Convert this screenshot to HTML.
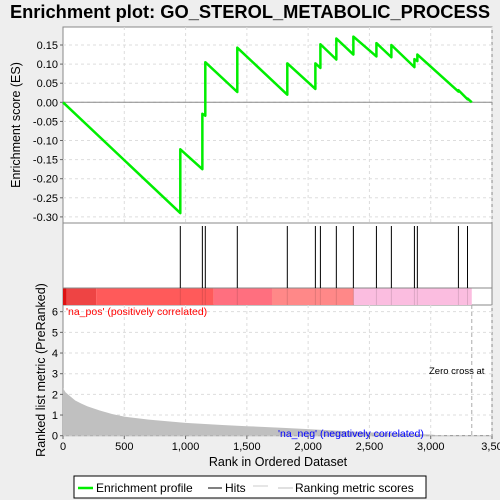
<!DOCTYPE html>
<html><head><meta charset="utf-8"><style>
body{margin:0;background:#eeeeee;}
svg{display:block;font-family:"Liberation Sans",sans-serif;}
</style></head><body>
<svg id="c" width="500" height="500" viewBox="0 0 500 500">
<text x="250" y="18" text-anchor="middle" font-size="18.3" font-weight="bold" fill="#000">Enrichment plot: GO_STEROL_METABOLIC_PROCESS</text>
<g id="g"></g>
</svg>
<script>
const hitRanks=[957,1137,1161,1422,1830,2059,2100,2230,2369,2557,2679,2867,2891,3226,3300];
const esBefore=[-0.29,-0.175,-0.035,0.027,0.02,0.035,0.09,0.112,0.125,0.12,0.118,0.092,0.108,0.028,0.008];
const esAfter=[-0.123,-0.03,0.105,0.143,0.102,0.102,0.152,0.167,0.172,0.155,0.15,0.113,0.125,0.032,0.01];
const totalN=3335;
const metricRanks=[0,20,50,100,150,200,300,400,500,700,1000,1300,1500,1800,2000,2300,2500,2800,3000,3050,3100];
const metricVals=[2.3,2.1,1.95,1.7,1.55,1.42,1.22,1.05,0.92,0.78,0.62,0.52,0.46,0.38,0.32,0.22,0.16,0.1,0.06,0.03,0];
const xTicks=[0,500,1000,1500,2000,2500,3000,3500];
const xTickLabels=["0","500","1,000","1,500","2,000","2,500","3,000","3,50"];
const esTicks=[0.15,0.10,0.05,0.00,-0.05,-0.10,-0.15,-0.20,-0.25,-0.30];
const esTickLabels=["0.15","0.10","0.05","0.00","-0.05","-0.10","-0.15","-0.20","-0.25","-0.30"];
const mTicks=[0,1,2,3,4,5,6];

const L=63,R=492;
const X=v=>L+v*(R-L)/3500;
const YE=v=>102.3-v*(19.1/0.05);
const YM=v=>435.7-v*20.67;
const NS="http://www.w3.org/2000/svg";
const g=document.getElementById('g');
function el(t,a,p){const e=document.createElementNS(NS,t);for(const k in a)e.setAttribute(k,a[k]);(p||g).appendChild(e);return e;}

let e;
e=el('rect',{x:L,y:27,width:R-L,height:196,fill:'#fff',stroke:'#888'});


e=el('rect',{x:L,y:223,width:R-L,height:82,fill:'#fff',stroke:'#888'});


e=el('rect',{x:L,y:305,width:R-L,height:130.7,fill:'#fff',stroke:'#888'});



xTicks.forEach(t=>{if(t===0)return;
 el('line',{x1:X(t),x2:X(t),y1:27,y2:223,stroke:'#ddd','stroke-dasharray':'3,3'});
 el('line',{x1:X(t),x2:X(t),y1:305,y2:435.7,stroke:'#ddd','stroke-dasharray':'3,3'});});
esTicks.forEach(t=>el('line',{x1:L,x2:R,y1:YE(t),y2:YE(t),stroke:'#ddd','stroke-dasharray':'3,3'}));
mTicks.forEach(t=>el('line',{x1:L,x2:R,y1:YM(t),y2:YM(t),stroke:'#ddd','stroke-dasharray':'3,3'}));
el('line',{x1:L,x2:R,y1:YE(0),y2:YE(0),stroke:'#888'});

const segs=[[0,30,'#dd1111'],[30,270,'#ee4444'],[270,1230,'#ff5a5a'],[1230,1705,'#ff6f7f'],[1705,2372,'#ff8888'],[2372,totalN,'#fbbde0']];
segs.forEach((s,i)=>{e=el('rect',{x:X(s[0]),y:288,width:X(s[1])-X(s[0]),height:17,fill:s[2]});
 
 });
el('line',{x1:L,x2:R,y1:288,y2:288,stroke:'#888'});

hitRanks.forEach(r=>{e=el('line',{x1:X(r),x2:X(r),y1:226,y2:288,stroke:'#000','stroke-width':1});
 
 
 el('line',{x1:X(r),x2:X(r),y1:288,y2:305,stroke:'rgba(0,0,0,0.12)'});});

let d='M'+X(0)+','+YM(0);
metricRanks.forEach((r,i)=>{d+=' L'+X(r)+','+YM(metricVals[i]);});
d+=' L'+X(metricRanks[metricRanks.length-1])+','+YM(0)+'Z';
e=el('path',{d:d,fill:'#c0c0c0',stroke:'none'});


e=el('line',{x1:X(totalN),x2:X(totalN),y1:305,y2:435.7,stroke:'#aaa','stroke-dasharray':'4,3'});



let p='M'+X(0)+','+YE(0);
hitRanks.forEach((r,i)=>{p+=' L'+X(r)+','+YE(esBefore[i])+' L'+X(r)+','+YE(esAfter[i]);});
p+=' L'+X(totalN)+','+YE(0);
e=el('path',{d:p,fill:'none',stroke:'#00ee00','stroke-width':2.5,'stroke-linejoin':'round'});



esTicks.forEach((t,i)=>{el('line',{x1:L-3,x2:L,y1:YE(t),y2:YE(t),stroke:'#666'});
 e=el('text',{x:L-5,y:YE(t)+4,'text-anchor':'end','font-size':11,fill:'#000'});e.textContent=esTickLabels[i];
 
 });
mTicks.forEach(t=>{el('line',{x1:L-3,x2:L,y1:YM(t),y2:YM(t),stroke:'#666'});
 e=el('text',{x:L-5,y:YM(t)+4,'text-anchor':'end','font-size':11,fill:'#000'});e.textContent=String(t);
 
 });
xTicks.forEach((t,i)=>{el('line',{x1:X(t),x2:X(t),y1:435.7,y2:439,stroke:'#666'});
 e=el('text',{x:X(t),y:450,'text-anchor':'middle','font-size':11,fill:'#000'});e.textContent=xTickLabels[i];
 
 });

function txt(x,y,s,a,name){const t=el('text',Object.assign({x:x,y:y},a));t.textContent=s;
 return t;}
txt(20,125,'Enrichment score (ES)',{transform:'rotate(-90 20 125)','text-anchor':'middle','font-size':12.5},'es-axis-title');
txt(45,370,'Ranked list metric (PreRanked)',{transform:'rotate(-90 45 370)','text-anchor':'middle','font-size':12.5},'metric-axis-title');
txt(278,466,'Rank in Ordered Dataset',{'text-anchor':'middle','font-size':12.5},'x-axis-title');
txt(66,315,"'na_pos' (positively correlated)",{'font-size':10.5,fill:'#ff0000'},'na-pos-label');
txt(278,437,"'na_neg' (negatively correlated)",{'font-size':10.5,fill:'#0000ff'},'na-neg-label');
txt(429,374,'Zero cross at',{'font-size':9.5,fill:'#000'},'zero-cross-label');

e=el('rect',{x:74,y:476,width:352,height:22,fill:'#fff',stroke:'#000'});


el('line',{x1:78,x2:93,y1:488,y2:488,stroke:'#00ee00','stroke-width':2.5});
txt(96,492,'Enrichment profile',{'font-size':12},'legend-entry-enrichment');
el('line',{x1:208,x2:222,y1:488,y2:488,stroke:'#000'});
txt(225,492,'Hits',{'font-size':12},'legend-entry-hits');
el('line',{x1:253,x2:268,y1:486,y2:486,stroke:'#ccc'});
el('line',{x1:278,x2:293,y1:488,y2:488,stroke:'#c0c0c0'});
txt(295,492,'Ranking metric scores',{'font-size':12},'legend-entry-metric');
</script>
</body></html>
